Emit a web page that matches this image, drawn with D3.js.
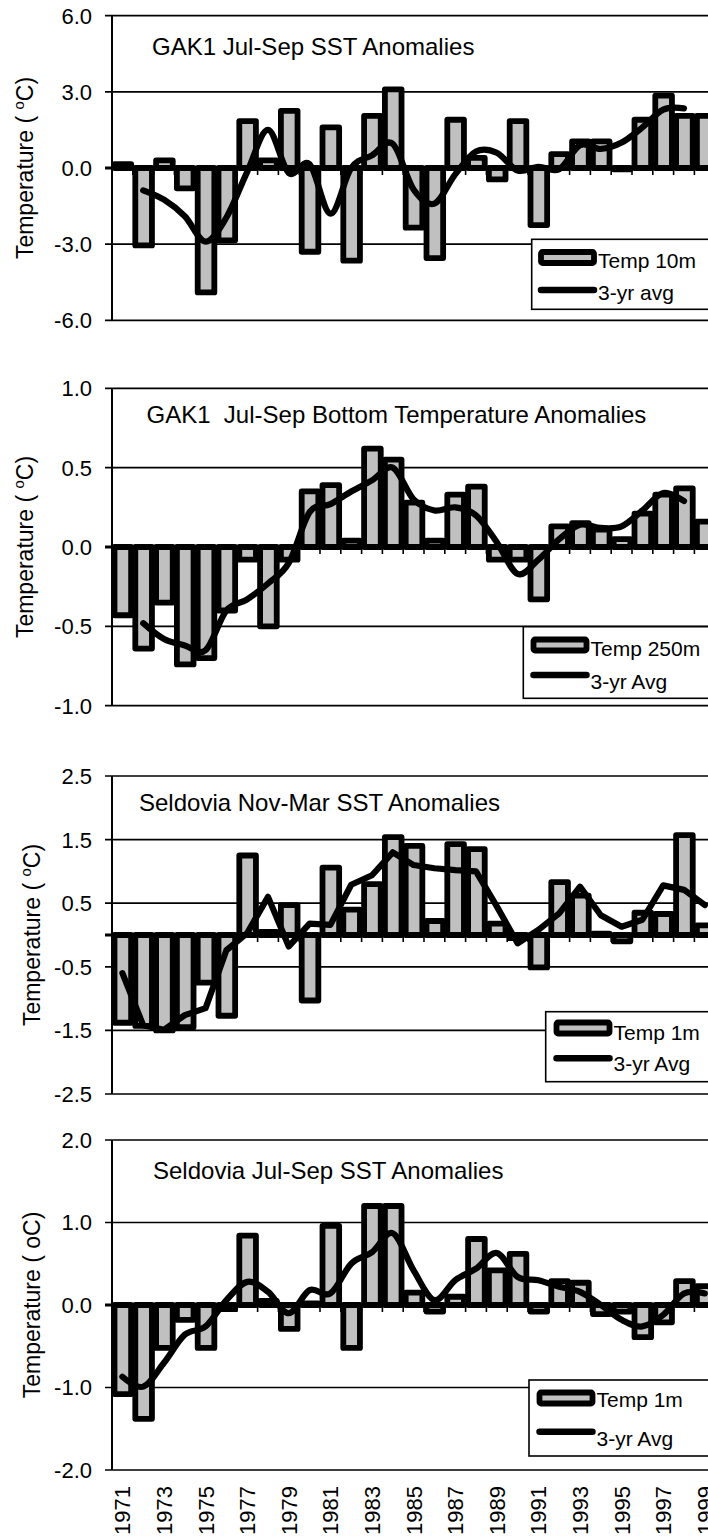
<!DOCTYPE html>
<html>
<head>
<meta charset="utf-8">
<script src="https://cdn.jsdelivr.net/npm/d3@7"></script>
<style>
  html, body { margin: 0; padding: 0; background: #fff; }
  svg { display: block; }
  text { font-family: "Liberation Sans", Arial, sans-serif; fill: #000; }
</style>
</head>
<body>
<svg id="chart" width="708" height="1537"></svg>
<script>
// ---------------- DATA ----------------
const years = [1971,1972,1973,1974,1975,1976,1977,1978,1979,1980,1981,1982,1983,1984,1985,
               1986,1987,1988,1989,1990,1991,1992,1993,1994,1995,1996,1997,1998,1999];
const yearLabels = ["1971","1973","1975","1977","1979","1981","1983","1985","1987","1989",
                    "1991","1993","1995","1997","1999"];

// Panel 1: GAK1 Jul-Sep SST anomalies (10 m)
const gak1Sst = [0.15,-3.05,0.3,-0.8,-4.9,-2.85,1.85,0.3,2.25,-3.3,1.6,-3.65,2.05,3.1,-2.35,
                 -3.55,1.9,0.4,-0.45,1.85,-2.25,0.55,1.05,1.05,-0.05,1.9,2.85,2.05,2.05];
const gak1SstAvg = [null,-0.88,-1.25,-1.9,-2.9,-1.95,-0.15,1.5,-0.2,0.15,-1.8,0.0,0.5,0.95,-0.85,
                    -1.4,-0.25,0.65,0.6,-0.1,0.05,-0.05,0.9,0.75,1.0,1.6,2.3,2.35,null];
const gak1SstTicks = [6,3,0,-3,-6];
const gak1SstTickLabels = ["6.0","3.0","0.0","-3.0","-6.0"];

// Panel 2: GAK1 Jul-Sep bottom temperature anomalies (250 m)
const gak1Bottom = [-0.43,-0.64,-0.35,-0.74,-0.70,-0.40,-0.08,-0.5,-0.08,0.35,0.39,0.04,0.62,0.55,0.28,
                    0.04,0.33,0.38,-0.08,-0.08,-0.33,0.13,0.15,0.11,0.05,0.21,0.33,0.37,0.16];
const gak1BottomAvg = [null,-0.48,-0.58,-0.62,-0.65,-0.40,-0.33,-0.23,-0.1,0.22,0.27,0.35,0.42,0.5,0.3,
                       0.23,0.25,0.2,0.03,-0.17,-0.08,0.05,0.14,0.12,0.13,0.23,0.34,0.29,null];
const gak1BottomTicks = [1,0.5,0,-0.5,-1];
const gak1BottomTickLabels = ["1.0","0.5","0.0","-0.5","-1.0"];

// Panel 3: Seldovia Nov-Mar SST anomalies (1 m)
const seldWinter = [-1.38,-1.43,-1.5,-1.45,-0.75,-1.27,1.25,0.05,0.47,-1.03,1.06,0.4,0.8,1.54,1.4,
                    0.22,1.43,1.35,0.18,-0.05,-0.51,0.83,0.62,0.02,-0.1,0.35,0.33,1.57,0.15];
const seldWinterAvg = [-0.6,-1.42,-1.49,-1.26,-1.15,-0.24,0.03,0.6,-0.18,0.18,0.16,0.79,0.94,1.3,1.1,
                       1.05,1.02,1.0,0.45,-0.13,0.08,0.34,0.76,0.31,0.13,0.24,0.78,0.71,0.47];
const seldWinterTicks = [2.5,1.5,0.5,-0.5,-1.5,-2.5];
const seldWinterTickLabels = ["2.5","1.5","0.5","-0.5","-1.5","-2.5"];

// Panel 4: Seldovia Jul-Sep SST anomalies (1 m)
const seldSummer = [-1.08,-1.38,-0.52,-0.18,-0.52,-0.05,0.84,0.05,-0.29,0.02,0.96,-0.52,1.2,1.2,0.15,
                    -0.08,0.1,0.8,0.42,0.62,-0.08,0.29,0.27,-0.11,-0.08,-0.39,-0.21,0.29,0.23];
const seldSummerAvg = [-0.87,-0.99,-0.7,-0.36,-0.26,0.06,0.28,0.16,-0.1,0.18,0.14,0.5,0.64,0.87,0.42,
                       0.06,0.3,0.44,0.63,0.34,0.3,0.22,0.16,0.0,-0.18,-0.26,-0.12,0.14,0.14];
const seldSummerTicks = [2,1,0,-1,-2];
const seldSummerTickLabels = ["2.0","1.0","0.0","-1.0","-2.0"];

// ---------------- DRAWING ----------------
const svg = d3.select("#chart");
const X_LEFT = 112, CAT_W = 20.8;
const x = d3.scaleBand().domain(years).range([X_LEFT, X_LEFT + years.length * CAT_W]).padding(0);
const GRAY = "#c0c0c0";

const panels = [
  { bars: gak1Sst, avg: gak1SstAvg, ticks: gak1SstTicks, tickLabels: gak1SstTickLabels,
    top: 15.7, bottom: 320.3, title: "GAK1 Jul-Sep SST Anomalies", titleX: 152, titleY: 55,
    ytitleX: 33, sup: true, smooth: true,
    legend: { x: 531.7, y: 239.3, h: 70, sw: [538, 249], lineY: 290, t1: "Temp 10m", t1y: 268, t2: "3-yr avg", t2y: 300 } },
  { bars: gak1Bottom, avg: gak1BottomAvg, ticks: gak1BottomTicks, tickLabels: gak1BottomTickLabels,
    top: 388.3, bottom: 705.7, title: "GAK1\u00a0\u00a0Jul-Sep Bottom Temperature Anomalies", titleX: 146.5, titleY: 423,
    ytitleX: 33, sup: true, smooth: true,
    legend: { x: 523.3, y: 626.7, h: 71.6, sw: [530.5, 636.5], lineY: 675, t1: "Temp 250m", t1y: 656, t2: "3-yr Avg", t2y: 689 } },
  { bars: seldWinter, avg: seldWinterAvg, ticks: seldWinterTicks, tickLabels: seldWinterTickLabels,
    top: 776, bottom: 1094, title: "Seldovia Nov-Mar SST Anomalies", titleX: 139, titleY: 811,
    ytitleX: 40, sup: true, smooth: false,
    legend: { x: 545.7, y: 1011.7, h: 70, sw: [553.5, 1019.5], lineY: 1058.3, t1: "Temp 1m", t1y: 1040, t2: "3-yr Avg", t2y: 1071 } },
  { bars: seldSummer, avg: seldSummerAvg, ticks: seldSummerTicks, tickLabels: seldSummerTickLabels,
    top: 1140, bottom: 1470, title: "Seldovia Jul-Sep SST Anomalies", titleX: 153, titleY: 1179,
    ytitleX: 40, sup: false, smooth: true,
    legend: { x: 529, y: 1380, h: 76, sw: [536.5, 1389.5], lineY: 1431.7, t1: "Temp 1m", t1y: 1407, t2: "3-yr Avg", t2y: 1446 } }
];

panels.forEach((p, pi) => {
  const g = svg.append("g");
  const ext = d3.extent(p.ticks);
  const y = d3.scaleLinear().domain([ext[0], ext[1]]).range([p.bottom, p.top]);
  const xr = x.range();

  // gridlines
  g.selectAll("line.grid").data(p.ticks).enter().append("line")
    .attr("x1", 105).attr("x2", xr[1] + 10)
    .attr("y1", d => y(d)).attr("y2", d => y(d))
    .attr("stroke", "#000").attr("stroke-width", d => d === 0 ? 0 : 1.7);

  // tick labels
  g.selectAll("text.tick").data(p.ticks).enter().append("text")
    .attr("x", 92).attr("y", d => y(d)).attr("dy", "0.36em")
    .attr("text-anchor", "end").attr("font-size", 22)
    .text((d, i) => p.tickLabels[i]);

  // title
  g.append("text").attr("x", p.titleX).attr("y", p.titleY)
    .attr("font-size", 24).text(p.title);

  // y-axis title
  const cy = (p.top + p.bottom) / 2;
  const yt = g.append("text")
    .attr("transform", `translate(${p.ytitleX},${cy}) rotate(-90)`)
    .attr("text-anchor", "middle").attr("font-size", 23);
  if (p.sup) {
    yt.append("tspan").text("Temperature ( ");
    yt.append("tspan").attr("font-size", 15).attr("dy", -9).text("o");
    yt.append("tspan").attr("dy", 9).text("C)");
  } else {
    yt.text("Temperature ( oC)");
  }

  // bars
  const bw = x.bandwidth();
  g.selectAll("rect.bar").data(p.bars).enter().append("rect")
    .attr("x", (d, i) => x(years[i]) + bw * 0.12)
    .attr("width", bw * 0.8)
    .attr("y", d => y(Math.max(0, d)))
    .attr("height", d => Math.abs(y(d) - y(0)))
    .attr("fill", GRAY).attr("stroke", "#000").attr("stroke-width", 5.8)
    .attr("stroke-linejoin", "round");

  // zero (category) axis with ticks
  g.append("line").attr("x1", 105).attr("x2", xr[1] + 10)
    .attr("y1", y(0)).attr("y2", y(0)).attr("stroke", "#000").attr("stroke-width", 3);
  g.selectAll("line.ctick").data(years.slice(1)).enter().append("line")
    .attr("x1", d => x(d)).attr("x2", d => x(d))
    .attr("y1", y(0)).attr("y2", y(0) + 7)
    .attr("stroke", "#000").attr("stroke-width", 1.6);

  // y axis line
  g.append("line").attr("x1", X_LEFT).attr("x2", X_LEFT)
    .attr("y1", p.top).attr("y2", p.bottom).attr("stroke", "#000").attr("stroke-width", 2);

  // 3-yr average line
  const line = d3.line()
    .defined(d => d !== null)
    .x((d, i) => x(years[i]) + bw / 2)
    .y(d => y(d))
    .curve(p.smooth ? d3.curveCardinal.tension(0) : d3.curveLinear);
  g.append("path").attr("d", line(p.avg))
    .attr("fill", "none").attr("stroke", "#000").attr("stroke-width", 6.2)
    .attr("stroke-linejoin", "round").attr("stroke-linecap", "round");

  // legend
  const L = p.legend;
  g.append("rect").attr("x", L.x).attr("y", L.y).attr("width", 220).attr("height", L.h)
    .attr("fill", "#fff").attr("stroke", "#000").attr("stroke-width", 1.6);
  g.append("rect").attr("x", L.sw[0] + 3).attr("y", L.sw[1] + 3).attr("width", 53).attr("height", 11)
    .attr("fill", GRAY).attr("stroke", "#000").attr("stroke-width", 5.8).attr("rx", 1.5);
  g.append("line").attr("x1", L.sw[0] + 3).attr("x2", L.sw[0] + 56)
    .attr("y1", L.lineY).attr("y2", L.lineY)
    .attr("stroke", "#000").attr("stroke-width", 6.5).attr("stroke-linecap", "round");
  g.append("text").attr("x", L.sw[0] + 60).attr("y", L.t1y).attr("font-size", 21).text(L.t1);
  g.append("text").attr("x", L.sw[0] + 60).attr("y", L.t2y).attr("font-size", 21).text(L.t2);

  // year labels on bottom panel
  if (pi === panels.length - 1) {
    g.selectAll("text.year").data(yearLabels).enter().append("text")
      .attr("transform", d => `translate(${x(+d) + bw / 2},${1486}) rotate(-90)`)
      .attr("dy", "0.36em").attr("text-anchor", "end").attr("font-size", 22)
      .text(d => d);
  }
});
</script>
</body>
</html>
